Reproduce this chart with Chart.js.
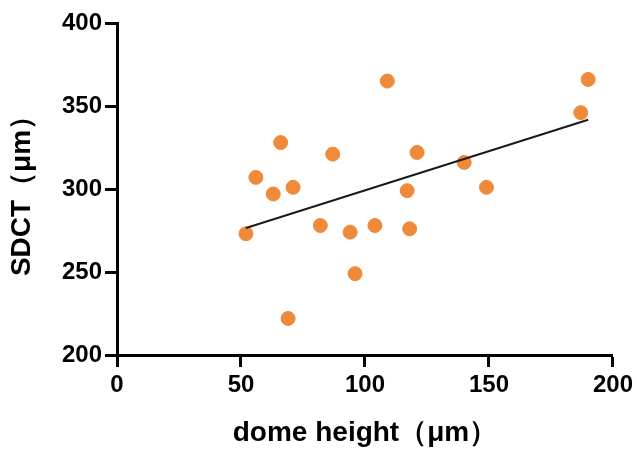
<!DOCTYPE html>
<html>
<head>
<meta charset="utf-8">
<script src="https://cdn.jsdelivr.net/npm/chart.js@4.4.1/dist/chart.umd.min.js"></script>
<style>
    html, body { margin: 0; padding: 0; background: #fff; }
    #wrap { width: 637px; height: 450px; }
</style>
</head>
<body>
<div id="wrap"><canvas id="chart"></canvas></div>
<script>
// dome height (µm) vs SDCT (µm)
const domeHeight = [52, 56, 63, 66, 71, 69, 82, 87, 94, 96, 104, 109, 117, 118, 121, 140, 149, 187, 190];
const sdct = [273, 307, 297, 328, 301, 222, 278, 321, 274, 249, 278, 365, 299, 276, 322, 316, 301, 346, 366];

// fitted line end points
const fitX = [52, 190];
const fitY = [276.5, 341.7];

const xTicks = [0, 50, 100, 150, 200];
const yTicks = [200, 250, 300, 350, 400];

const font = 'Liberation Sans, Arial, Helvetica, sans-serif';

const points = domeHeight.map((x, i) => ({ x: x, y: sdct[i] }));
const fit = fitX.map((x, i) => ({ x: x, y: fitY[i] }));

const axisBase = {
    grid: {
        display: true,
        drawOnChartArea: false,
        drawTicks: true,
        tickLength: 12,
        tickWidth: 3,
        tickColor: '#000'
    },
    border: { display: true, color: '#000', width: 3 }
};

new Chart(document.getElementById('chart'), {
    type: 'scatter',
    data: {
        datasets: [
            {
                data: points,
                backgroundColor: '#EF8A3B',
                borderColor: '#EF8A3B',
                pointRadius: 7,
                pointHoverRadius: 7,
                order: 2
            },
            {
                type: 'line',
                data: fit,
                borderColor: '#1a1a1a',
                borderWidth: 2,
                pointRadius: 0,
                fill: false,
                order: 1
            }
        ]
    },
    options: {
        responsive: true,
        maintainAspectRatio: false,
        animation: false,
        layout: { padding: { top: 23, right: 24, left: 0, bottom: 0 } },
        plugins: {
            legend: { display: false },
            tooltip: { enabled: false }
        },
        scales: {
            x: {
                ...axisBase,
                type: 'linear',
                min: 0,
                max: 200,
                afterBuildTicks: axis => { axis.ticks = xTicks.map(v => ({ value: v })); },
                ticks: {
                    color: '#000',
                    padding: 4,
                    font: { family: font, size: 24, weight: 'bold' }
                },
                title: {
                    display: true,
                    text: 'dome height（μm）',
                    color: '#000',
                    padding: { top: 12, bottom: 0 },
                    font: { family: font, size: 28, weight: 'bold' }
                },
                afterFit: axis => { axis.height = 95; }
            },
            y: {
                ...axisBase,
                type: 'linear',
                min: 200,
                max: 400,
                afterBuildTicks: axis => { axis.ticks = yTicks.map(v => ({ value: v })); },
                ticks: {
                    color: '#000',
                    padding: 3,
                    font: { family: font, size: 24, weight: 'bold' }
                },
                title: {
                    display: true,
                    text: 'SDCT（μm）',
                    color: '#000',
                    padding: { top: 5, bottom: 4 },
                    font: { family: font, size: 28, weight: 'bold' }
                },
                afterFit: axis => { axis.width = 117; }
            }
        }
    }
});
</script>
</body>
</html>
